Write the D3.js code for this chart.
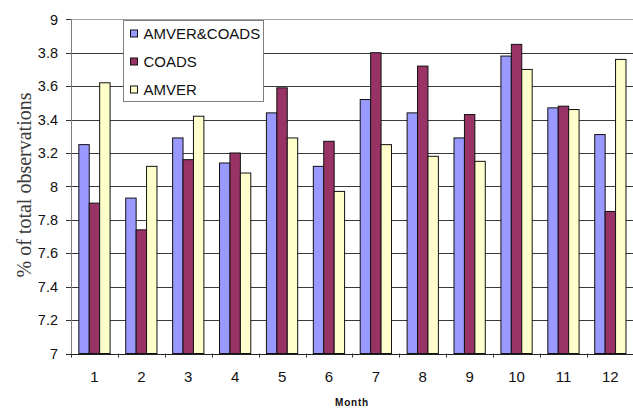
<!DOCTYPE html>
<html>
<head>
<meta charset="utf-8">
<script src="https://cdn.jsdelivr.net/npm/d3@7"></script>
<style>
  body { margin: 0; background: #fff; }
  svg { display: block; font-family: "Liberation Sans", Arial, sans-serif; }
</style>
</head>
<body>
<div id="chart"></div>
<script>
// monthly share of observations
var months = ['1', '2', '3', '4', '5', '6', '7', '8', '9', '10', '11', '12']
var seriesNames = ['AMVER&COADS', 'COADS', 'AMVER']
var amverCoads = [8.25, 7.93, 8.29, 8.14, 8.44, 8.12, 8.52, 8.44, 8.29, 8.78, 8.47, 8.31]
var coads      = [7.90, 7.74, 8.16, 8.20, 8.59, 8.27, 8.80, 8.72, 8.43, 8.85, 8.48, 7.85]
var amver      = [8.62, 8.12, 8.42, 8.08, 8.29, 7.97, 8.25, 8.18, 8.15, 8.70, 8.46, 8.76]
var yTicks = [7, 7.2, 7.4, 7.6, 7.8, 8, 8.2, 8.4, 8.6, 8.8, 9]
var yTickLabels = ['7', '7.2', '7.4', '7.6', '7.8', '8', '3.2', '3.4', '3.6', '3.8', '9']
var colors = ['#9999ff', '#993366', '#ffffcc']

function drawChart(){
  var width = 633
  var height = 408
  var plotLeft = 71, plotTop = 19.3, plotBottom = 353.5
  var step = 46.9

  var svg = d3.select('#chart').append('svg')
    .attr('width', width)
    .attr('height', height)

  var values = [amverCoads, coads, amver]
  var rows = months.map((m, i) => ({month: m, vals: values.map((s, j) => ({key: seriesNames[j], j, v: s[i]}))}))

  var x0 = d3.scaleBand().domain(months).range([plotLeft, plotLeft + step*months.length])
  var x1 = d3.scaleBand().domain(seriesNames).range([0, x0.bandwidth()]).paddingOuter(0.75)
  var y = d3.scaleLinear().domain([7, 9]).range([plotBottom, plotTop])

  // horizontal gridlines
  svg.append('g').selectAll('line')
    .data(yTicks.filter(d => d > 7))
    .join('line')
    .attr('x1', plotLeft).attr('x2', width)
    .attr('y1', d => Math.round(y(d)) + 0.5).attr('y2', d => Math.round(y(d)) + 0.5)
    .attr('stroke', d => d == 9 ? '#a0a0a0' : '#3a3a3a')

  // bars
  svg.append('g').selectAll('g')
    .data(rows)
    .join('g')
    .attr('transform', d => `translate(${x0(d.month)},0)`)
    .selectAll('rect')
    .data(d => d.vals)
    .join('rect')
    .attr('x', d => x1(d.key))
    .attr('width', x1.bandwidth())
    .attr('y', d => y(d.v))
    .attr('height', d => plotBottom - y(d.v))
    .attr('fill', d => colors[d.j])
    .attr('stroke', '#111')
    .attr('stroke-width', 1)

  // y axis
  var yAxis = svg.append('g')
  yAxis.append('line')
    .attr('x1', plotLeft + 0.5).attr('x2', plotLeft + 0.5)
    .attr('y1', plotTop).attr('y2', plotBottom)
    .attr('stroke', '#808080')
  yAxis.selectAll('line.tick')
    .data(yTicks)
    .join('line')
    .attr('class', 'tick')
    .attr('x1', plotLeft - 5).attr('x2', plotLeft)
    .attr('y1', d => Math.round(y(d)) + 0.5).attr('y2', d => Math.round(y(d)) + 0.5)
    .attr('stroke', '#333')
  yAxis.selectAll('text')
    .data(yTicks)
    .join('text')
    .attr('x', 58)
    .attr('y', d => y(d))
    .attr('dy', '0.36em')
    .attr('text-anchor', 'end')
    .attr('font-size', 14.5)
    .attr('fill', '#111')
    .text((d, i) => yTickLabels[i])

  // x axis
  var xAxis = svg.append('g')
  xAxis.append('line')
    .attr('x1', plotLeft - 5).attr('x2', width)
    .attr('y1', Math.round(plotBottom) + 0.5).attr('y2', Math.round(plotBottom) + 0.5)
    .attr('stroke', '#222')
  xAxis.selectAll('line.tick')
    .data(months)
    .join('line')
    .attr('class', 'tick')
    .attr('x1', d => Math.round(x0(d)) + 0.5).attr('x2', d => Math.round(x0(d)) + 0.5)
    .attr('y1', plotBottom).attr('y2', plotBottom + 4)
    .attr('stroke', '#333')
  xAxis.selectAll('text')
    .data(months)
    .join('text')
    .attr('x', d => x0(d) + x0.bandwidth()/2)
    .attr('y', 382)
    .attr('text-anchor', 'middle')
    .attr('font-size', 15)
    .attr('fill', '#111')
    .text(d => d)

  svg.append('text')
    .attr('x', (plotLeft + width)/2)
    .attr('y', 406)
    .attr('text-anchor', 'middle')
    .attr('font-size', 10)
    .attr('font-weight', 'bold')
    .attr('letter-spacing', 0.8)
    .attr('fill', '#111')
    .text('Month')

  svg.append('text')
    .attr('transform', 'translate(31,185) rotate(-90)')
    .attr('text-anchor', 'middle')
    .style('font-family', "'Liberation Serif', 'Times New Roman', Times, 'DejaVu Serif', serif")
    .style('font-size', '20px')
    .attr('fill', '#3a3a3a')
    .text('% of total observations')

  // legend
  var lg = svg.append('g').attr('transform', 'translate(123.5,20.5)')
  lg.append('rect')
    .attr('width', 140).attr('height', 81)
    .attr('fill', '#fff')
    .attr('stroke', '#808080')
  var item = lg.selectAll('g')
    .data(seriesNames)
    .join('g')
    .attr('transform', (d, i) => `translate(7,${13 + i*28})`)
  item.append('rect')
    .attr('x', 0).attr('y', -3.5)
    .attr('width', 7).attr('height', 7)
    .attr('fill', (d, i) => colors[i])
    .attr('stroke', '#111')
  item.append('text')
    .attr('x', 13)
    .attr('dy', '0.36em')
    .attr('font-size', 15)
    .attr('fill', '#111')
    .text(d => d)
}

drawChart()
</script>
</body>
</html>
